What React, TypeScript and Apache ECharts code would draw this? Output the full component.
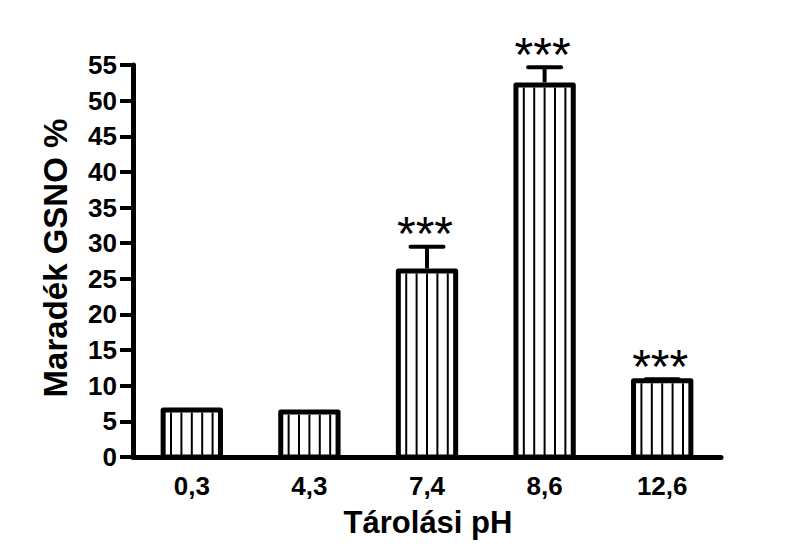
import React, { useEffect, useRef } from "react";
import * as echarts from "echarts";

const categories = ["0,3", "4,3", "7,4", "8,6", "12,6"];
const values = [6.6, 6.3, 26.1, 52.2, 10.7];
const errors = [0, 0, 3.4, 2.5, 0.2];
const stars = ["", "", "***", "***", "***"];
const yMin = 0;
const yMax = 55;
const yInterval = 5;
const xTitle = "Tárolási pH";
const yTitle = "Maradék GSNO %";

const FONT = "'Liberation Sans', Arial, Helvetica, sans-serif";

export default function App() {
  const ref = useRef<HTMLDivElement>(null);
  useEffect(() => {
    document.body.style.margin = "0";
    if (!ref.current) return;
    const chart = echarts.init(ref.current, null, { renderer: "svg" });
    const data = values.map((v, i) => [i, v, errors[i]]);
    chart.setOption({
      animation: false,
      backgroundColor: "#ffffff",
      grid: { left: 133, right: 67, top: 65, bottom: 87 },
      xAxis: {
        type: "category",
        data: categories,
        axisLine: { lineStyle: { color: "#000", width: 5 } },
        axisTick: { show: false },
        axisLabel: {
          color: "#000",
          fontFamily: FONT,
          fontWeight: "bold",
          fontSize: 26,
          margin: 16,
        },
      },
      yAxis: {
        type: "value",
        min: yMin,
        max: yMax,
        interval: yInterval,
        axisLine: { show: true, lineStyle: { color: "#000", width: 5 } },
        axisTick: { show: true, length: 13, lineStyle: { color: "#000", width: 4 } },
        splitLine: { show: false },
        axisLabel: {
          color: "#000",
          fontFamily: FONT,
          fontWeight: "bold",
          fontSize: 26,
          margin: 16,
        },
      },
      graphic: [
        {
          type: "text",
          x: 428,
          y: 522,
          style: {
            text: xTitle,
            fontFamily: FONT,
            fontWeight: "bold",
            fontSize: 31,
            fill: "#000",
            align: "center",
            verticalAlign: "middle",
          },
        },
        {
          type: "text",
          x: 55,
          y: 258,
          rotation: Math.PI / 2,
          style: {
            text: yTitle,
            fontFamily: FONT,
            fontWeight: "bold",
            fontSize: 33,
            fill: "#000",
            align: "center",
            verticalAlign: "middle",
          },
        },
      ],
      series: [
        {
          type: "custom",
          data,
          encode: { x: 0, y: 1 },
          renderItem: (params: any, api: any) => {
            const i = api.value(0);
            const v = api.value(1);
            const e = api.value(2);
            const top = api.coord([i, v]);
            const base = api.coord([i, 0]);
            const cx = top[0];
            const bw = api.size([1, 0])[0] * 0.53;
            const sw = 5;
            const children: any[] = [];
            children.push({
              type: "rect",
              shape: { x: cx - bw / 2 + sw / 2, y: top[1], width: bw - sw, height: base[1] - top[1] },
              style: { fill: "#fff", stroke: "#000", lineWidth: sw, lineJoin: "round" },
            });
            const step = bw / 6;
            for (let k = -2; k <= 2; k++) {
              const lx = cx + k * step;
              children.push({
                type: "line",
                shape: { x1: lx, y1: top[1] + sw / 2, x2: lx, y2: base[1] },
                style: { stroke: "#000", lineWidth: 2 },
              });
            }
            let capY = top[1];
            if (e > 0) {
              const errTop = api.coord([i, v + e]);
              capY = errTop[1];
              children.push({
                type: "line",
                shape: { x1: cx, y1: top[1] - sw / 2, x2: cx, y2: capY },
                style: { stroke: "#000", lineWidth: 4 },
              });
              children.push({
                type: "line",
                shape: { x1: cx - 16.5, y1: capY, x2: cx + 16.5, y2: capY },
                style: { stroke: "#000", lineWidth: 4, lineCap: "round" },
              });
            }
            const s = stars[params.dataIndex];
            if (s) {
              children.push({
                type: "text",
                x: cx - 2,
                y: capY - 13,
                style: {
                  text: s,
                  fontFamily: FONT,
                  fontSize: 48,
                  fill: "#000",
                  align: "center",
                  verticalAlign: "middle",
                },
              });
            }
            return { type: "group", children };
          },
        },
      ],
    });
    return () => chart.dispose();
  }, []);
  return <div ref={ref} style={{ width: 788, height: 544 }} />;
}
